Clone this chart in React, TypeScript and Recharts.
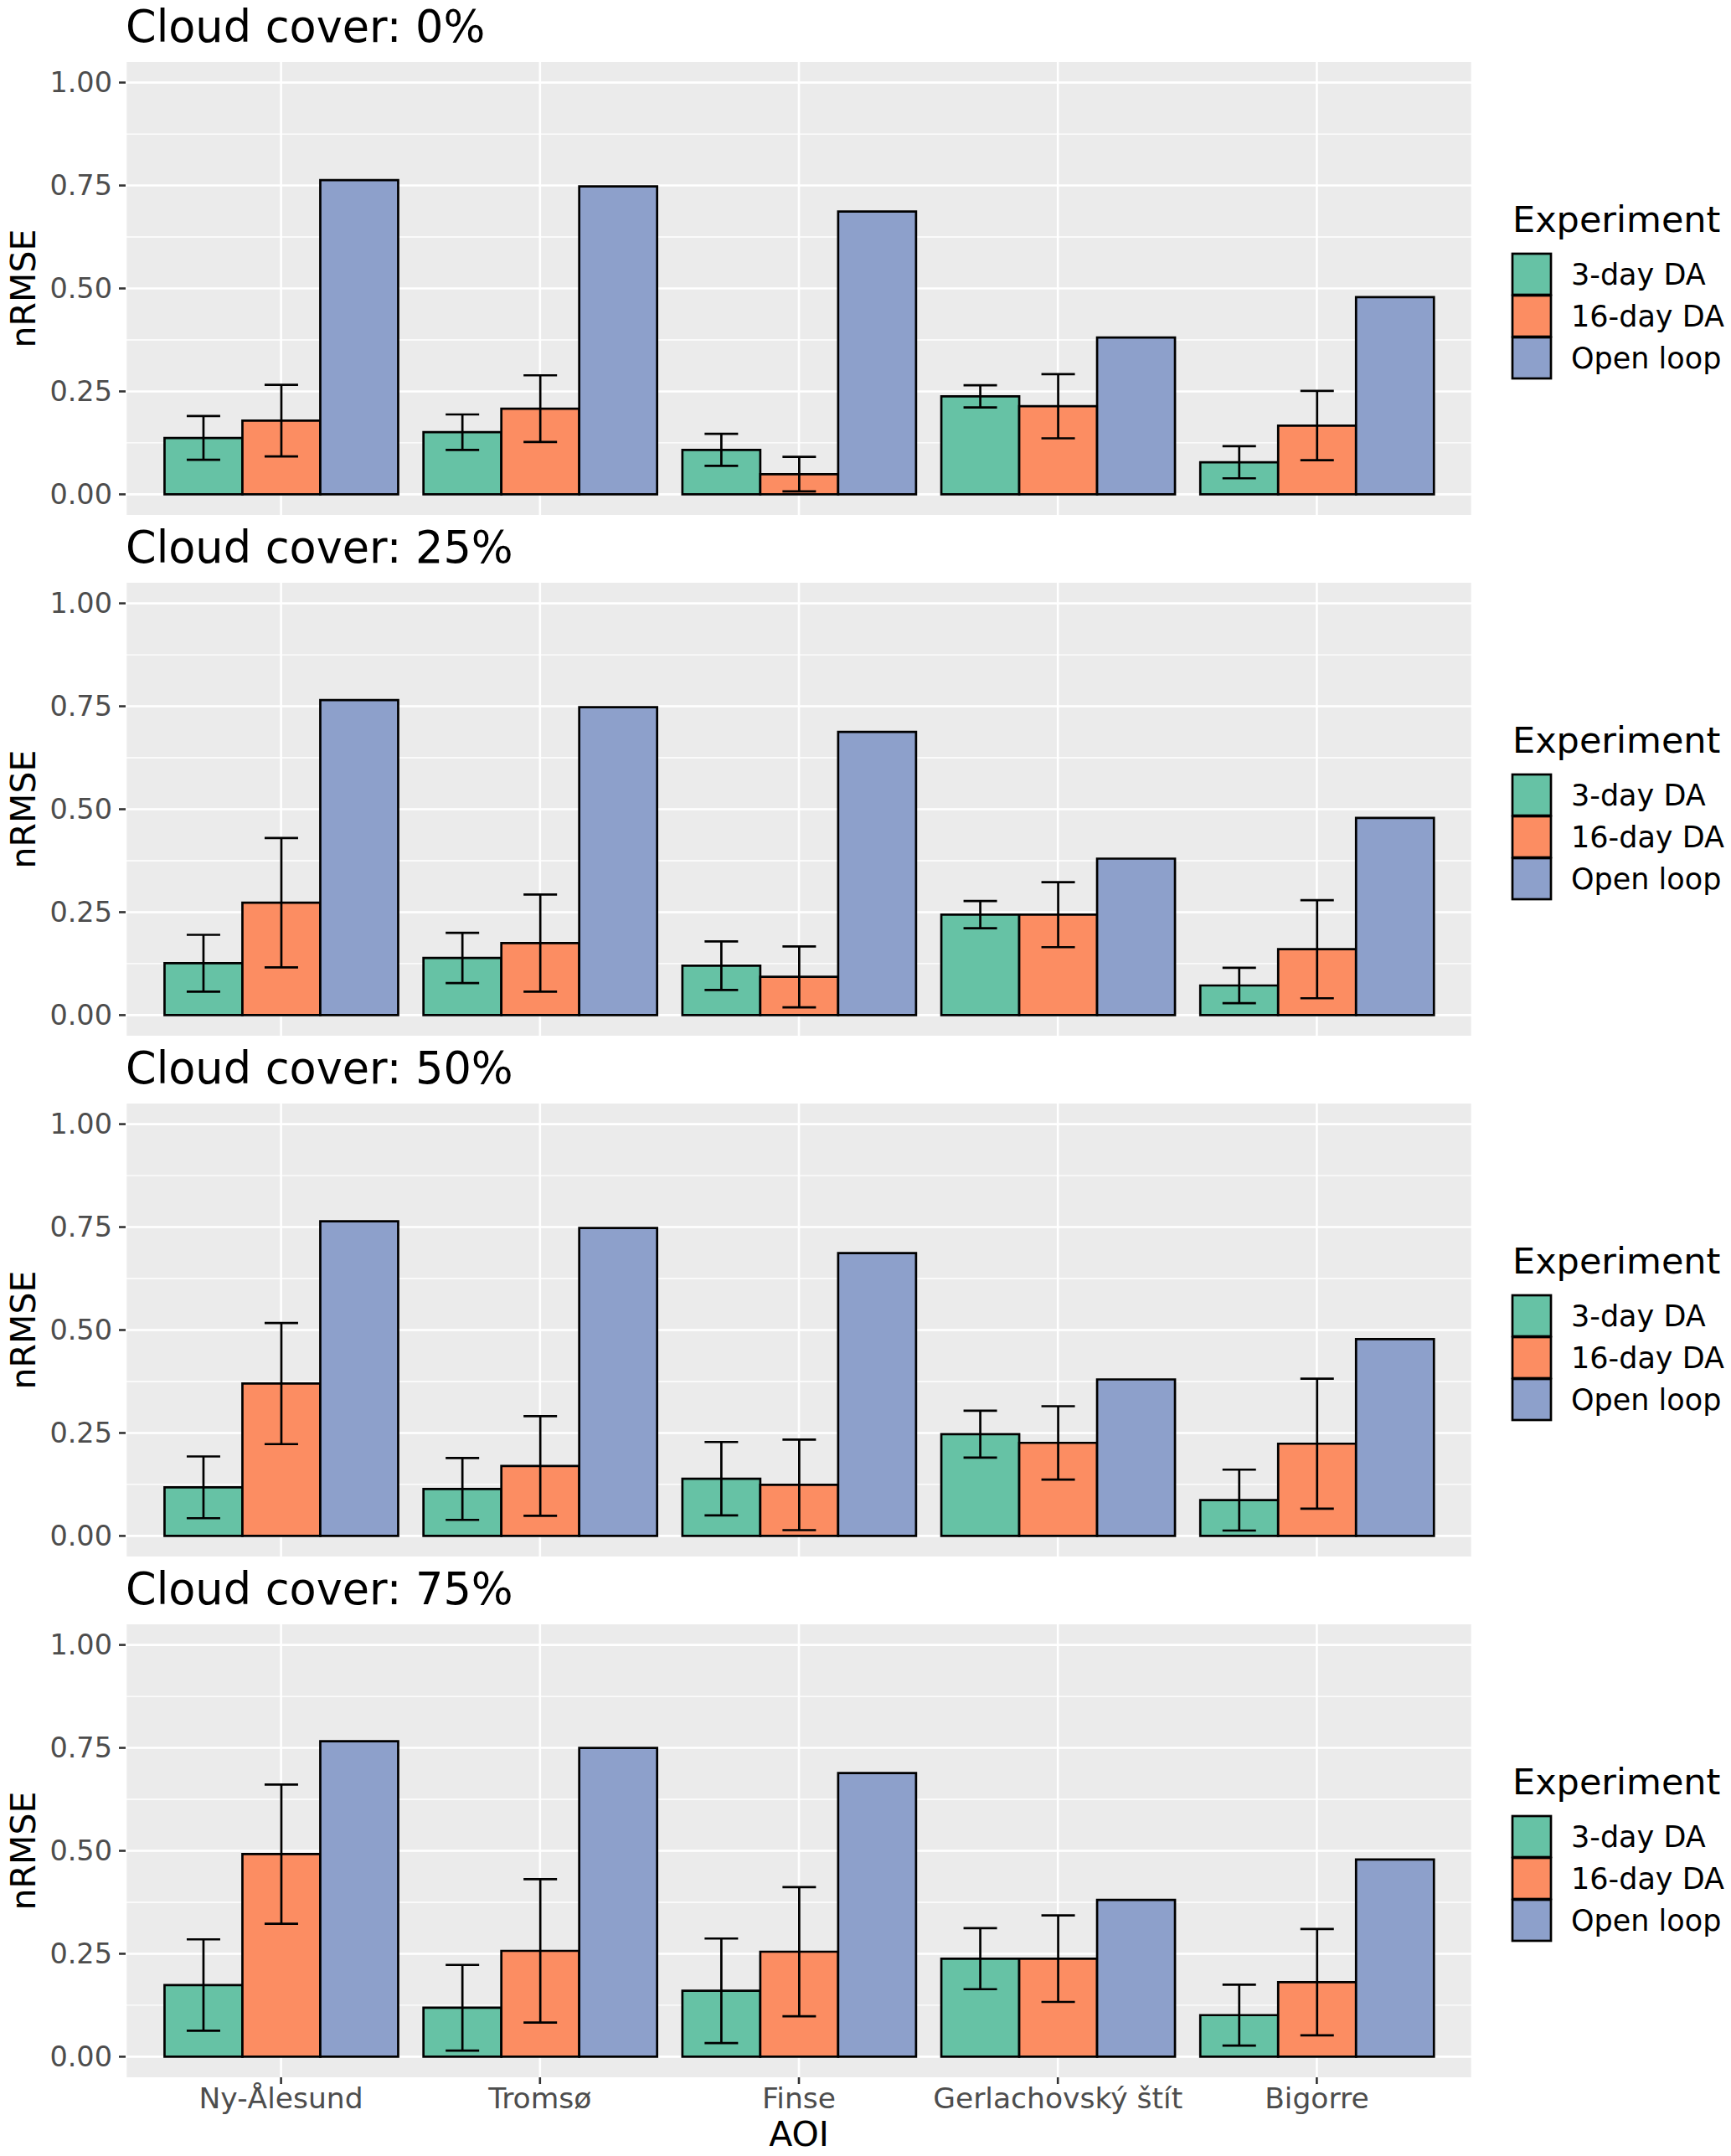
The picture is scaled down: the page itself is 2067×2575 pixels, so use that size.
import React from "react";
import { BarChart, Bar, XAxis, YAxis, CartesianGrid, ErrorBar, Legend } from "recharts";

const aois = ["Ny-Ålesund", "Tromsø", "Finse", "Gerlachovský štít", "Bigorre"];
const cloudCovers = ["0%", "25%", "50%", "75%"];
const experiments = ["3-day DA", "16-day DA", "Open loop"];
const yTicks = [0, 0.25, 0.5, 0.75, 1];
const minorTicks = [0.125, 0.375, 0.625, 0.875];

// one row per cloud cover panel, one value per AOI
const da3 = [
  [0.137, 0.151, 0.108, 0.238, 0.078],
  [0.126, 0.139, 0.12, 0.244, 0.072],
  [0.118, 0.114, 0.139, 0.247, 0.087],
  [0.174, 0.119, 0.16, 0.238, 0.101],
];
const da3Sd = [
  [0.053, 0.043, 0.039, 0.027, 0.039],
  [0.069, 0.061, 0.059, 0.033, 0.043],
  [0.075, 0.075, 0.089, 0.057, 0.074],
  [0.111, 0.104, 0.127, 0.074, 0.074],
];
const da16 = [
  [0.179, 0.208, 0.049, 0.214, 0.167],
  [0.273, 0.175, 0.093, 0.244, 0.16],
  [0.37, 0.17, 0.124, 0.226, 0.224],
  [0.492, 0.257, 0.255, 0.238, 0.181],
];
const da16Sd = [
  [0.087, 0.081, 0.042, 0.078, 0.084],
  [0.157, 0.118, 0.074, 0.079, 0.119],
  [0.147, 0.121, 0.11, 0.089, 0.158],
  [0.169, 0.174, 0.157, 0.105, 0.129],
];
const openLoop = [
  [0.763, 0.748, 0.687, 0.381, 0.479],
  [0.765, 0.748, 0.688, 0.38, 0.479],
  [0.764, 0.748, 0.687, 0.38, 0.478],
  [0.766, 0.75, 0.689, 0.381, 0.479],
];

const FONT = "DejaVu Sans";
const PANEL_STEP = 622;
const PLOT_TOP = 74;
const PLOT_H = 541;
const LEGEND_W = 309;

function ExperimentLegend(props: any) {
  const payload = [...(props.payload || [])].sort(
    (a: any, b: any) => experiments.indexOf(a.value) - experiments.indexOf(b.value)
  );
  return (
    <svg width={LEGEND_W} height={480} style={{ display: "block" }}>
      <text x={48} y={277} fontSize={43} fill="#000">
        Experiment
      </text>
      {payload.map((p: any, i: number) => (
        <g key={p.value}>
          <rect x={48} y={303 + i * 50} width={46} height={49} fill={p.color} stroke="#000" strokeWidth={2.7} />
          <text x={118} y={303 + i * 50 + 37} fontSize={35} fill="#000">
            {p.value}
          </text>
        </g>
      ))}
    </svg>
  );
}

function YTitle(props: any) {
  const vb = props.viewBox;
  const x = vb.x + 42;
  const y = vb.y + vb.height / 2;
  return (
    <text x={x} y={y} transform={`rotate(-90 ${x} ${y})`} textAnchor="middle" fontSize={41} fill="#000">
      nRMSE
    </text>
  );
}

function XTitle(props: any) {
  const vb = props.viewBox;
  return (
    <text x={vb.x + vb.width / 2} y={vb.y + 82} textAnchor="middle" fontSize={41} fill="#000">
      AOI
    </text>
  );
}

function NoTick() {
  return <g />;
}

function Panel({ index }: { index: number }) {
  const last = index === cloudCovers.length - 1;
  const top = Math.round(index * PANEL_STEP);
  const height = last ? 2575 - top : 623;
  const xHeight = last ? height - PLOT_TOP - PLOT_H : 0;
  const data = aois.map((aoi, i) => ({
    aoi,
    da3: da3[index][i],
    da3Sd: da3Sd[index][i],
    da16: da16[index][i],
    da16Sd: da16Sd[index][i],
    open: openLoop[index][i],
  }));

  return (
    <div style={{ position: "absolute", left: 0, top, width: 2067, height }}>
      <BarChart
        width={2067}
        height={height}
        data={data}
        margin={{ top: PLOT_TOP, right: 0, bottom: last ? 0 : height - PLOT_TOP - PLOT_H, left: 0 }}
        barCategoryGap="5%"
        barGap={0}
      >
        <CartesianGrid fill="#ebebeb" stroke="#ffffff" strokeWidth={1.3} vertical={false} horizontalValues={minorTicks} />
        <CartesianGrid stroke="#ffffff" strokeWidth={2.6} horizontalValues={yTicks} />
        {last ? (
          <XAxis
            dataKey="aoi"
            padding={{ left: 31, right: 31 }}
            height={xHeight}
            interval={0}
            axisLine={false}
            tickSize={8}
            tickMargin={5}
            tickLine={{ stroke: "#333333", strokeWidth: 2.6 }}
            tick={{ fill: "#4d4d4d", fontSize: 34.5 }}
            label={XTitle}
          />
        ) : (
          <XAxis
            dataKey="aoi"
            padding={{ left: 31, right: 31 }}
            height={0}
            interval={0}
            axisLine={false}
            tickLine={false}
            tick={NoTick}
          />
        )}
        <YAxis
          type="number"
          domain={[-0.05, 1.05]}
          ticks={yTicks}
          allowDataOverflow
          width={150}
          axisLine={false}
          tickSize={8}
          tickMargin={8}
          tickLine={{ stroke: "#333333", strokeWidth: 2.6 }}
          tick={{ fill: "#4d4d4d", fontSize: 33.5 }}
          tickFormatter={(v: number) => v.toFixed(2)}
          label={YTitle}
        />
        <Legend
          layout="vertical"
          align="right"
          verticalAlign="top"
          width={LEGEND_W}
          wrapperStyle={{ top: 0, right: 0 }}
          content={ExperimentLegend}
        />
        <Bar dataKey="da3" name="3-day DA" fill="#66c2a5" stroke="#000" strokeWidth={2.7} legendType="rect" isAnimationActive={false}>
          <ErrorBar dataKey="da3Sd" width={20} stroke="#000" strokeWidth={2.7} direction="y" isAnimationActive={false} />
        </Bar>
        <Bar dataKey="da16" name="16-day DA" fill="#fc8d62" stroke="#000" strokeWidth={2.7} legendType="rect" isAnimationActive={false}>
          <ErrorBar dataKey="da16Sd" width={20} stroke="#000" strokeWidth={2.7} direction="y" isAnimationActive={false} />
        </Bar>
        <Bar dataKey="open" name="Open loop" fill="#8da0cb" stroke="#000" strokeWidth={2.7} legendType="rect" isAnimationActive={false} />
      </BarChart>
      <div
        style={{
          position: "absolute",
          left: 150,
          top: 5,
          fontSize: 52.5,
          lineHeight: "53px",
          whiteSpace: "nowrap",
          color: "#000",
        }}
      >
        Cloud cover: {cloudCovers[index]}
      </div>
    </div>
  );
}

export default function App() {
  return (
    <div style={{ position: "absolute", left: 0, top: 0, width: 2067, height: 2575, background: "#fff", fontFamily: FONT }}>
      {cloudCovers.map((_, i) => (
        <Panel key={i} index={i} />
      ))}
    </div>
  );
}
